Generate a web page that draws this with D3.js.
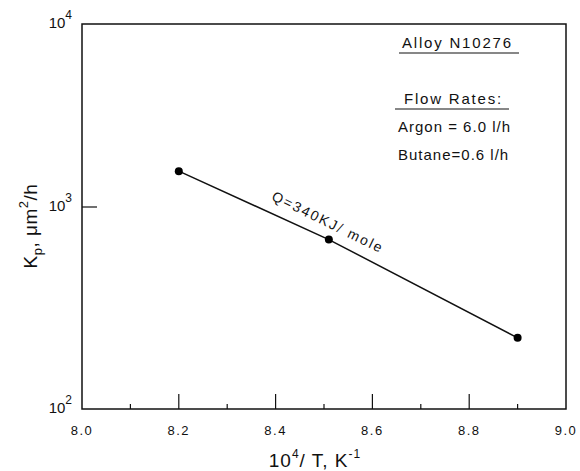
<!DOCTYPE html>
<meta charset="utf-8">
<script src="https://d3js.org/d3.v7.min.js"></script>
<style>
  body { margin: 0; background: #fff; }
  text { font-family: "Liberation Sans", Arial, sans-serif; fill: #111; }
</style>
<div id="chart"></div>
<script>

// data
var invT = [8.2, 8.51, 8.9];          // 10^4/T, K^-1
var kp = [1570, 690, 225];            // Kp, um^2/h
var xMajor = [8.0, 8.2, 8.4, 8.6, 8.8, 9.0];
var xMinor = [8.1, 8.3, 8.5, 8.7, 8.9];
var yTicks = [100, 1000, 10000];
var noteLines = ["Argon = 6.0 l/h", "Butane=0.6 l/h"];

var width = 580, height = 471;
var plot = {left: 82, right: 566, top: 24, bottom: 409};

var svg = d3.select("#chart").append("svg")
    .attr("width", width)
    .attr("height", height);

var x = d3.scaleLinear()
    .domain([8.0, 9.0])
    .range([plot.left, plot.right]);

// the scanned plot is slightly stretched, so the decades are not equal
var y = d3.scaleLog()
    .domain([100, 1000, 10000])
    .range([plot.bottom, 207, plot.top]);

// frame
svg.append("rect")
    .attr("x", plot.left).attr("y", plot.top)
    .attr("width", plot.right - plot.left).attr("height", plot.bottom - plot.top)
    .attr("fill", "none")
    .attr("stroke", "#111")
    .attr("stroke-width", 1.5);

// x ticks, drawn inward from the bottom
svg.selectAll(".xmaj")
  .data(xMajor.slice(1, -1))
  .enter().append("line")
    .attr("x1", function(d) { return x(d); })
    .attr("x2", function(d) { return x(d); })
    .attr("y1", plot.bottom)
    .attr("y2", plot.bottom - 15)
    .attr("stroke", "#111")
    .attr("stroke-width", 1.2);

svg.selectAll(".xmin")
  .data(xMinor)
  .enter().append("line")
    .attr("x1", function(d) { return x(d); })
    .attr("x2", function(d) { return x(d); })
    .attr("y1", plot.bottom)
    .attr("y2", plot.bottom - 5)
    .attr("stroke", "#111")
    .attr("stroke-width", 1.2);

svg.selectAll(".xlab")
  .data(xMajor)
  .enter().append("text")
    .attr("x", function(d) { return x(d); })
    .attr("y", plot.bottom + 26)
    .attr("text-anchor", "middle")
    .style("font-size", "13px")
    .style("letter-spacing", "1.5px")
    .text(function(d) { return d3.format(".1f")(d); });

// y ticks (only the inner decade has a tick mark)
svg.selectAll(".ytick")
  .data(yTicks.slice(1, -1))
  .enter().append("line")
    .attr("x1", plot.left)
    .attr("x2", plot.left + 15)
    .attr("y1", function(d) { return y(d); })
    .attr("y2", function(d) { return y(d); })
    .attr("stroke", "#111")
    .attr("stroke-width", 1.2);

var ylab = svg.selectAll(".ylab")
  .data(yTicks)
  .enter().append("text")
    .attr("x", plot.left - 10)
    .attr("y", function(d) { return y(d) + 4; })
    .attr("text-anchor", "end")
    .style("font-size", "15px");
ylab.append("tspan").text("10");
ylab.append("tspan")
    .attr("dy", -9)
    .style("font-size", "12px")
    .text(function(d) { return Math.round(Math.log10(d)); });

// axis titles
var xt = svg.append("text")
    .attr("x", 315)
    .attr("y", 467)
    .attr("text-anchor", "middle")
    .style("font-size", "19px")
    .style("letter-spacing", "1px");
xt.append("tspan").text("10");
xt.append("tspan").attr("dy", -9).style("font-size", "12px").text("4");
xt.append("tspan").attr("dy", 9).text("/ T, K");
xt.append("tspan").attr("dy", -9).style("font-size", "12px").text("-1");

var yt = svg.append("text")
    .attr("transform", "translate(37,226) rotate(-90)")
    .attr("text-anchor", "middle")
    .style("font-size", "19px")
    .style("letter-spacing", "0.5px");
yt.append("tspan").text("K");
yt.append("tspan").attr("dy", 5).style("font-size", "13px").text("p");
yt.append("tspan").attr("dy", -5).text(", μm");
yt.append("tspan").attr("dy", -9).style("font-size", "13px").text("2");
yt.append("tspan").attr("dy", 9).text("/h");

// data line and points
var line = d3.line()
    .x(function(d, i) { return x(invT[i]); })
    .y(function(d) { return y(d); });

svg.append("path")
    .attr("d", line(kp))
    .attr("fill", "none")
    .attr("stroke", "#111")
    .attr("stroke-width", 1.5);

svg.selectAll(".pt")
  .data(kp)
  .enter().append("circle")
    .attr("cx", function(d, i) { return x(invT[i]); })
    .attr("cy", function(d) { return y(d); })
    .attr("r", 4)
    .attr("fill", "#000");

// activation energy label along the line
var ang = Math.atan2(y(kp[2]) - y(kp[0]), x(invT[2]) - x(invT[0])) * 180 / Math.PI;
var lx = x(8.39), ly = y(kp[0]) + (lx - x(invT[0])) * Math.tan(ang * Math.PI / 180) - 17;
svg.append("text")
    .attr("transform", "translate(" + lx + "," + ly + ") rotate(" + ang + ")")
    .style("font-size", "14px")
    .style("letter-spacing", "2px")
    .text("Q=340KJ/ mole");

// notes box text
var note = svg.append("g");
note.append("text")
    .attr("x", 402).attr("y", 48)
    .style("font-size", "15px")
    .style("letter-spacing", "1.8px")
    .text("Alloy  N10276");
note.append("line")
    .attr("x1", 399).attr("x2", 519)
    .attr("y1", 53).attr("y2", 53)
    .attr("stroke", "#111").attr("stroke-width", 1.2);
note.append("text")
    .attr("x", 404).attr("y", 104)
    .style("font-size", "15px")
    .style("letter-spacing", "1.8px")
    .text("Flow  Rates:");
note.append("line")
    .attr("x1", 395).attr("x2", 509)
    .attr("y1", 109).attr("y2", 109)
    .attr("stroke", "#111").attr("stroke-width", 1.2);
note.selectAll(".nl")
  .data(noteLines)
  .enter().append("text")
    .attr("x", 398)
    .attr("y", function(d, i) { return 132 + i * 28; })
    .style("font-size", "15px")
    .style("letter-spacing", "1px")
    .text(function(d) { return d; });

</script>
